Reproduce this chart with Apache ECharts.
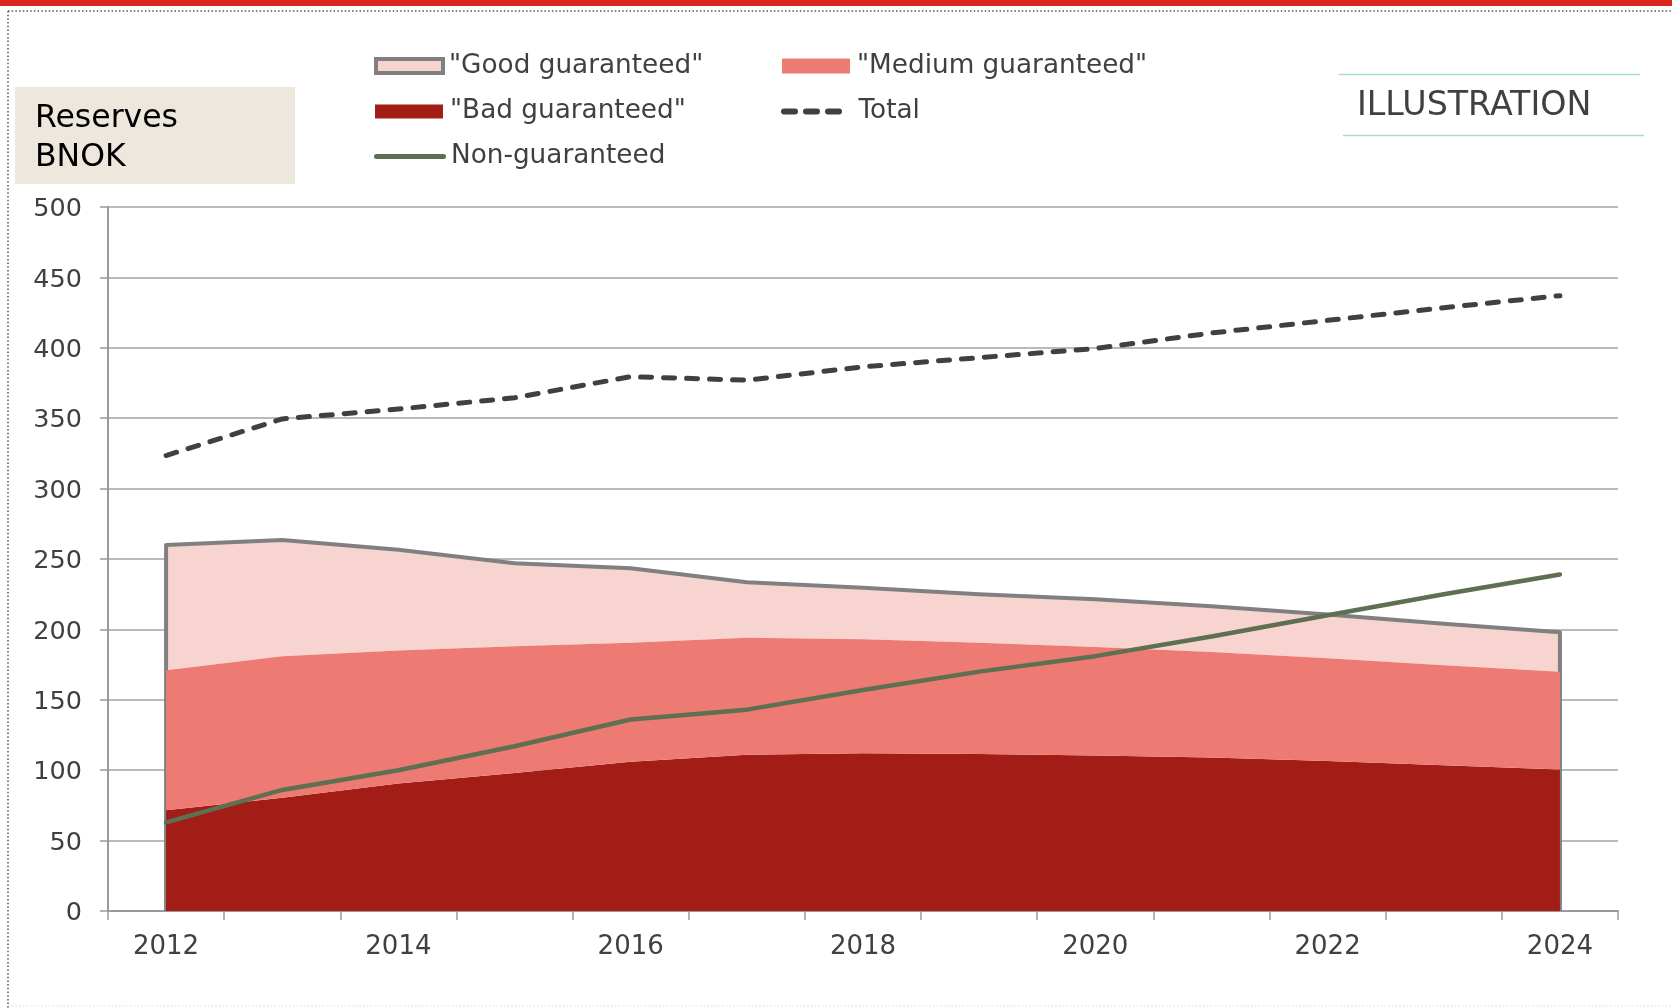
<!DOCTYPE html>
<html>
<head>
<meta charset="utf-8">
<script src="https://cdn.jsdelivr.net/npm/echarts@6/dist/echarts.min.js"></script>
<style>
  html, body { margin: 0; padding: 0; background: #ffffff; }
  #chart { width: 1672px; height: 1008px; }
</style>
</head>
<body>
<div id="chart"></div>
<script>
// Reserves by category, BNOK
const categories = ['2012', '2013', '2014', '2015', '2016', '2017', '2018', '2019', '2020', '2021', '2022', '2023', '2024'];
const badGuaranteed    = [71.5, 80.5, 90.5, 98, 106, 111, 112, 111.5, 110.5, 109, 106.5, 103.5, 100.5];
const mediumGuaranteed = [99.5, 100.5, 94.5, 90, 84.5, 83, 81, 79, 77, 75, 73, 71, 69.5];
const goodGuaranteed   = [89, 82.5, 71.5, 59, 53, 39.5, 36.5, 34.5, 34, 32.5, 31, 29.5, 28];
const nonGuaranteed    = [63, 86, 100, 117, 136, 143, 157, 170, 181, 195, 210, 225, 239];
const totalReserves    = [323.5, 349.5, 356.5, 364.5, 379.5, 377, 386.5, 393, 399.5, 410.5, 419.5, 428.5, 437];

const yMin = 0, yMax = 500, yStep = 50;

const NAME_GOOD = '"Good guaranteed"';
const NAME_MEDIUM = '"Medium guaranteed"';
const NAME_BAD = '"Bad guaranteed"';
const NAME_TOTAL = 'Total';
const NAME_NON = 'Non-guaranteed';

const FONT = 'DejaVu Sans';
const TEXT = '#404040';

// Outline around the guaranteed stack: left edge, top, right edge
const guaranteedTop = categories.map((c, i) => badGuaranteed[i] + mediumGuaranteed[i] + goodGuaranteed[i]);
const outlineData = [[categories[0], 0]]
  .concat(categories.map((c, i) => [c, guaranteedTop[i]]))
  .concat([[categories[categories.length - 1], 0]]);

function legendBox(name, left, centerY, w, h, item, textPadLeft) {
  return {
    show: true, selectedMode: false, orient: 'vertical', padding: 0,
    left: left, top: centerY - 15,
    itemWidth: w, itemHeight: h,
    textStyle: {
      fontFamily: FONT, fontSize: 26.3, color: TEXT, lineHeight: 30,
      padding: [0, 0, 0, textPadLeft || 0]
    },
    data: [Object.assign({ name: name }, item)]
  };
}

const chart = echarts.init(document.getElementById('chart'), null, { renderer: 'canvas' });

chart.setOption({
  animation: false,
  backgroundColor: '#ffffff',
  textStyle: { fontFamily: FONT },
  grid: { left: 108, right: 54, top: 207, bottom: 97, containLabel: false },
  graphic: [
    { type: 'rect', shape: { x: 0, y: 0, width: 1672, height: 6 }, style: { fill: '#D9261C' } },
    { type: 'line', shape: { x1: 8, y1: 11, x2: 1672, y2: 11 }, style: { stroke: '#555555', lineWidth: 1.5, lineDash: [1.5, 2.2] } },
    { type: 'line', shape: { x1: 8, y1: 11, x2: 8, y2: 1008 }, style: { stroke: '#555555', lineWidth: 1.5, lineDash: [1.5, 2.2] } },
    { type: 'line', shape: { x1: 8, y1: 1006, x2: 1672, y2: 1006 }, style: { stroke: '#d8d8d8', lineWidth: 1, lineDash: [1.5, 2.2] } },
    { type: 'rect', shape: { x: 15, y: 87, width: 280, height: 97 }, style: { fill: '#EDE7DE' } },
    { type: 'text', x: 35, y: 138, style: { text: 'Reserves\nBNOK', fontFamily: FONT, fontSize: 31.5, lineHeight: 39, fill: '#000000', verticalAlign: 'middle', align: 'left' } },
    { type: 'line', shape: { x1: 1339, y1: 74.5, x2: 1640, y2: 74.5 }, style: { stroke: '#A6DADA', lineWidth: 1.5 } },
    { type: 'line', shape: { x1: 1343, y1: 135.5, x2: 1644, y2: 135.5 }, style: { stroke: '#A6DADA', lineWidth: 1.5 } },
    { type: 'text', x: 1357, y: 106, style: { text: 'ILLUSTRATION', fontFamily: FONT, fontSize: 33.3, fill: TEXT, verticalAlign: 'middle', align: 'left' } }
  ],
  legend: [
    legendBox(NAME_GOOD, 374, 66, 67, 14, { icon: 'rect', itemStyle: { color: '#F8D4D0', borderColor: '#808080', borderWidth: 4 } }, 1),
    legendBox(NAME_MEDIUM, 782, 66, 68, 15, { icon: 'rect', itemStyle: { color: '#EE7A74', borderWidth: 0 } }, 2),
    legendBox(NAME_BAD, 375, 111.5, 68, 14, { icon: 'rect', itemStyle: { color: '#A11D16', borderWidth: 0 } }, 2),
    legendBox(NAME_TOTAL, 781, 111.5, 64, 6, {
      icon: 'path://M3,0H14A3,3 0 0 1 14,6H3A3,3 0 0 1 3,0Z M25,0H36A3,3 0 0 1 36,6H25A3,3 0 0 1 25,0Z M47,0H58A3,3 0 0 1 58,6H47A3,3 0 0 1 47,0Z',
      itemStyle: { color: '#404040', borderWidth: 0 }
    }, 10),
    legendBox(NAME_NON, 374, 156.5, 72, 5, {
      icon: 'path://M2.5,0H69.5A2.5,2.5 0 0 1 69.5,5H2.5A2.5,2.5 0 0 1 2.5,0Z',
      itemStyle: { color: '#5E6F52', borderWidth: 0 }
    }, 0)
  ],
  xAxis: {
    type: 'category',
    data: categories,
    boundaryGap: true,
    axisLine: { show: true, lineStyle: { color: '#9a9a9a', width: 2 } },
    axisTick: { show: true, interval: 0, length: 9, inside: false, lineStyle: { color: '#9a9a9a', width: 1.5 } },
    axisLabel: { interval: 1, margin: 23, fontFamily: FONT, fontSize: 26, color: TEXT },
    splitLine: { show: false }
  },
  yAxis: {
    type: 'value',
    min: yMin, max: yMax, interval: yStep,
    axisLine: { show: true, lineStyle: { color: '#9a9a9a', width: 2 } },
    axisTick: { show: true, length: 8, inside: false, lineStyle: { color: '#9a9a9a', width: 1.5 } },
    axisLabel: { margin: 26, fontFamily: FONT, fontSize: 25.5, color: TEXT, verticalAlign: 'top', lineHeight: 5 },
    splitLine: { show: true, lineStyle: { color: '#a3a3a3', width: 1.5 } }
  },
  series: [
    {
      name: NAME_BAD, type: 'line', stack: 'guaranteed', data: badGuaranteed,
      symbol: 'none', z: 4, color: '#A11D16',
      lineStyle: { width: 0 }, areaStyle: { color: '#A11D16', opacity: 1 }
    },
    {
      name: NAME_MEDIUM, type: 'line', stack: 'guaranteed', data: mediumGuaranteed,
      symbol: 'none', z: 4, color: '#EE7A74',
      lineStyle: { width: 0 }, areaStyle: { color: '#EE7A74', opacity: 1 }
    },
    {
      name: NAME_GOOD, type: 'line', stack: 'guaranteed', data: goodGuaranteed,
      symbol: 'none', z: 2, color: '#F8D4D0',
      lineStyle: { width: 0 }, areaStyle: { color: '#F8D4D0', opacity: 1 }
    },
    {
      name: 'guaranteed-outline', type: 'line', data: outlineData,
      symbol: 'none', z: 3, silent: true,
      lineStyle: { color: '#808080', width: 4, join: 'round' }
    },
    {
      name: NAME_NON, type: 'line', data: nonGuaranteed,
      symbol: 'none', z: 5, color: '#5E6F52',
      lineStyle: { color: '#5E6F52', width: 4.5, cap: 'round', join: 'round' }
    },
    {
      name: NAME_TOTAL, type: 'line', data: totalReserves,
      symbol: 'none', z: 5, color: '#404040',
      lineStyle: { color: '#404040', width: 5, type: [11, 12], cap: 'round', join: 'round' }
    }
  ]
});
</script>
</body>
</html>
